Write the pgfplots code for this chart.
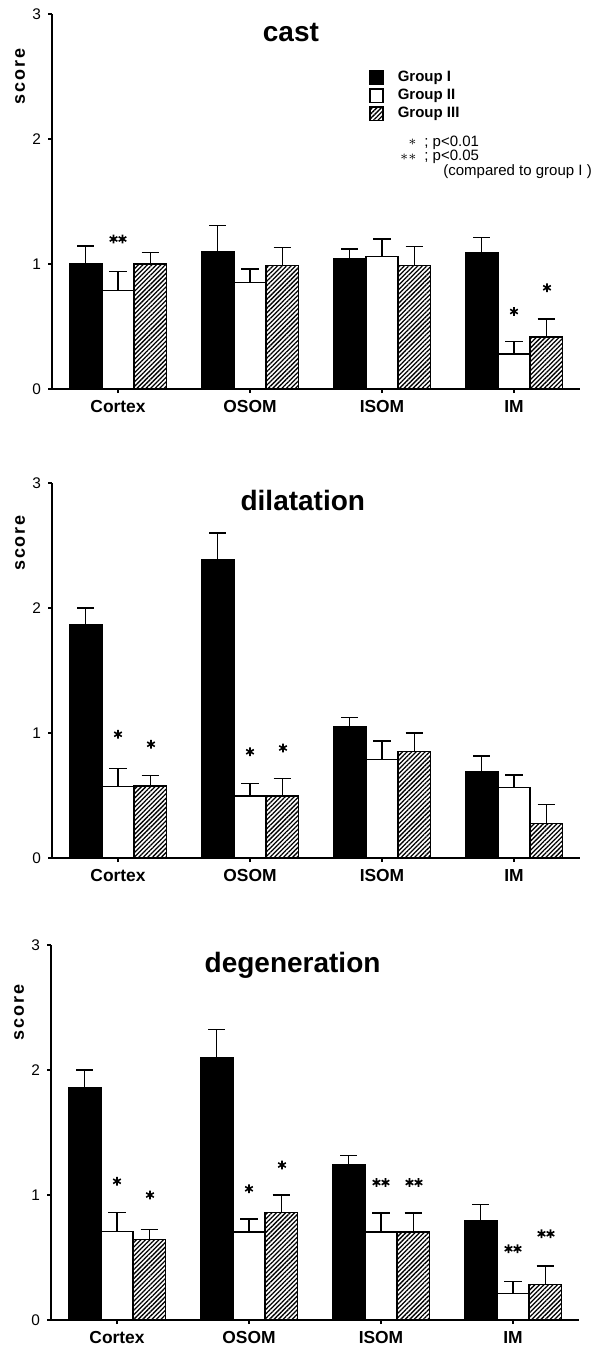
\documentclass[border=0pt]{standalone}
\usepackage{pgfplots}
\usepackage{pgfplotstable}
\pgfplotsset{compat=1.18}
\usepackage{fontspec}
\setmainfont{Liberation Sans}
\usetikzlibrary{patterns.meta}

% x: region, g1..g3 mean score, e1..e3 upper error
\pgfplotstableread{
x g1 e1 g2 e2 g3 e3
0 1.00 0.145 0.79 0.150 1.00 0.090
1 1.10 0.210 0.85 0.110 0.99 0.140
2 1.04 0.080 1.06 0.140 0.99 0.150
3 1.09 0.120 0.28 0.100 0.415 0.145
}\castdata
\pgfplotstableread{
x g1 e1 g2 e2 g3 e3
0 1.865 0.135 0.574 0.143 0.577 0.083
1 2.39 0.210 0.495 0.103 0.495 0.143
2 1.05 0.075 0.786 0.151 0.854 0.146
3 0.693 0.124 0.563 0.101 0.275 0.151
}\dildata
\pgfplotstableread{
x g1 e1 g2 e2 g3 e3
0 1.855 0.145 0.706 0.154 0.644 0.081
1 2.096 0.230 0.703 0.104 0.861 0.139
2 1.246 0.072 0.703 0.153 0.703 0.153
3 0.794 0.128 0.211 0.099 0.286 0.147
}\degdata

\newcommand\gap{0.245}

\pgfplotsset{
  sq legend/.style={legend image code/.code={\draw[##1] (0pt,-3.3pt) rectangle (6.6pt,3.3pt);}},
  mybar/.style={ybar, bar width=\gap, bar shift=0pt, draw=black, line width=0.7pt, sq legend,
    error bars/.cd, y dir=plus, y explicit,
    error bar style={line width=0.7pt, black, solid},
    error mark options={rotate=90, mark size=4.3pt, line width=0.7pt, black}},
  g1/.style={fill=black, mybar},
  g2/.style={fill=white, mybar},
  g3/.style={fill=white,
    postaction={pattern={Lines[angle=45,distance=1.6pt,line width=0.65pt]}}, mybar},
  stars/.style={only marks, mark=asterisk, mark size=2.2pt,
    mark options={line width=0.8pt, black}, forget plot},
  panel/.style={
    scale only axis, width=264pt, height=187.5pt,
    xmin=-0.5, xmax=3.5, ymin=0, ymax=3,
    axis lines*=left, axis line style={line width=0.75pt},
    xtick={0,1,2,3}, xticklabels={Cortex,OSOM,ISOM,IM},
    ytick={0,1,2,3},
    tick align=outside, major tick length=2pt,
    tick style={line width=0.7pt, black},
    xticklabel style={font=\fontsize{8.7}{10}\selectfont\bfseries},
    yticklabel style={font=\fontsize{7.7}{9}\selectfont},
    /pgf/number format/assume math mode=true,
    clip=false,
  },
}
\tikzset{
  scorelab/.style={rotate=90, font=\fontsize{9}{10}\selectfont\bfseries\addfontfeature{LetterSpace=10}},
  ttl/.style={font=\fontsize{14}{16}\selectfont\bfseries},
  note/.style={anchor=west, inner sep=0pt, font=\fontsize{7.5}{8}\selectfont},
  notestar/.style={anchor=east, inner sep=0pt, font=\fontsize{7}{7}\selectfont},
}

\begin{document}
\begin{tikzpicture}
\path[use as bounding box] (0,0) rectangle (306pt,-674.5pt);

% cast
\begin{axis}[panel, at={(26pt,-194.5pt)}, anchor=south west,
  legend style={at={(0.600,0.855)}, anchor=north west, draw=none, fill=none,
    inner sep=0pt, column sep=7pt, legend cell align=left,
    font=\fontsize{7.5}{9}\selectfont\bfseries,
    nodes={inner sep=0pt, text height=6.2pt, text depth=2.8pt}}]
\addplot[g1] table[x expr=\thisrow{x}-\gap, y=g1, y error=e1] {\castdata};
\addplot[g2] table[x=x, y=g2, y error=e2] {\castdata};
\addplot[g3] table[x expr=\thisrow{x}+\gap, y=g3, y error=e3] {\castdata};
\legend{Group I, Group II, Group III}
\addplot[stars] coordinates {(-0.034,1.20) (0.034,1.20) (3,0.62) (3.25,0.81)};
\node[ttl] at (axis cs:1.31,2.85) {cast};
\node[scorelab] at ([xshift=-16pt]axis cs:-0.5,2.5) {score};
\node[note] at (axis cs:2.318,1.968) {; p<0.01};
\node[note] at (axis cs:2.318,1.856) {; p<0.05};
\node[note] at (axis cs:2.462,1.736) {(compared to group I )};
\node[notestar] at (axis cs:2.265,1.975) {$\ast$};
\node[notestar] at (axis cs:2.265,1.852) {$\ast\ast$};
\end{axis}

% dilatation
\begin{axis}[panel, at={(26pt,-429pt)}, anchor=south west]
\addplot[g1] table[x expr=\thisrow{x}-\gap, y=g1, y error=e1] {\dildata};
\addplot[g2] table[x=x, y=g2, y error=e2] {\dildata};
\addplot[g3] table[x expr=\thisrow{x}+\gap, y=g3, y error=e3] {\dildata};
\addplot[stars] coordinates {(0,0.99) (0.25,0.91) (1,0.85) (1.25,0.88)};
\node[ttl] at (axis cs:1.40,2.86) {dilatation};
\node[scorelab] at ([xshift=-16pt]axis cs:-0.5,2.52) {score};
\end{axis}

% degeneration
\begin{axis}[panel, at={(25.5pt,-660pt)}, anchor=south west]
\addplot[g1] table[x expr=\thisrow{x}-\gap, y=g1, y error=e1] {\degdata};
\addplot[g2] table[x=x, y=g2, y error=e2] {\degdata};
\addplot[g3] table[x expr=\thisrow{x}+\gap, y=g3, y error=e3] {\degdata};
\addplot[stars] coordinates {(0,1.11) (0.25,1.0) (1,1.05) (1.25,1.24)
  (1.966,1.10) (2.034,1.10) (2.216,1.10) (2.284,1.10)
  (2.966,0.57) (3.034,0.57) (3.216,0.69) (3.284,0.69)};
\node[ttl] at (axis cs:1.33,2.84) {degeneration};
\node[scorelab] at ([xshift=-16pt]axis cs:-0.5,2.46) {score};
\end{axis}
\end{tikzpicture}
\end{document}
